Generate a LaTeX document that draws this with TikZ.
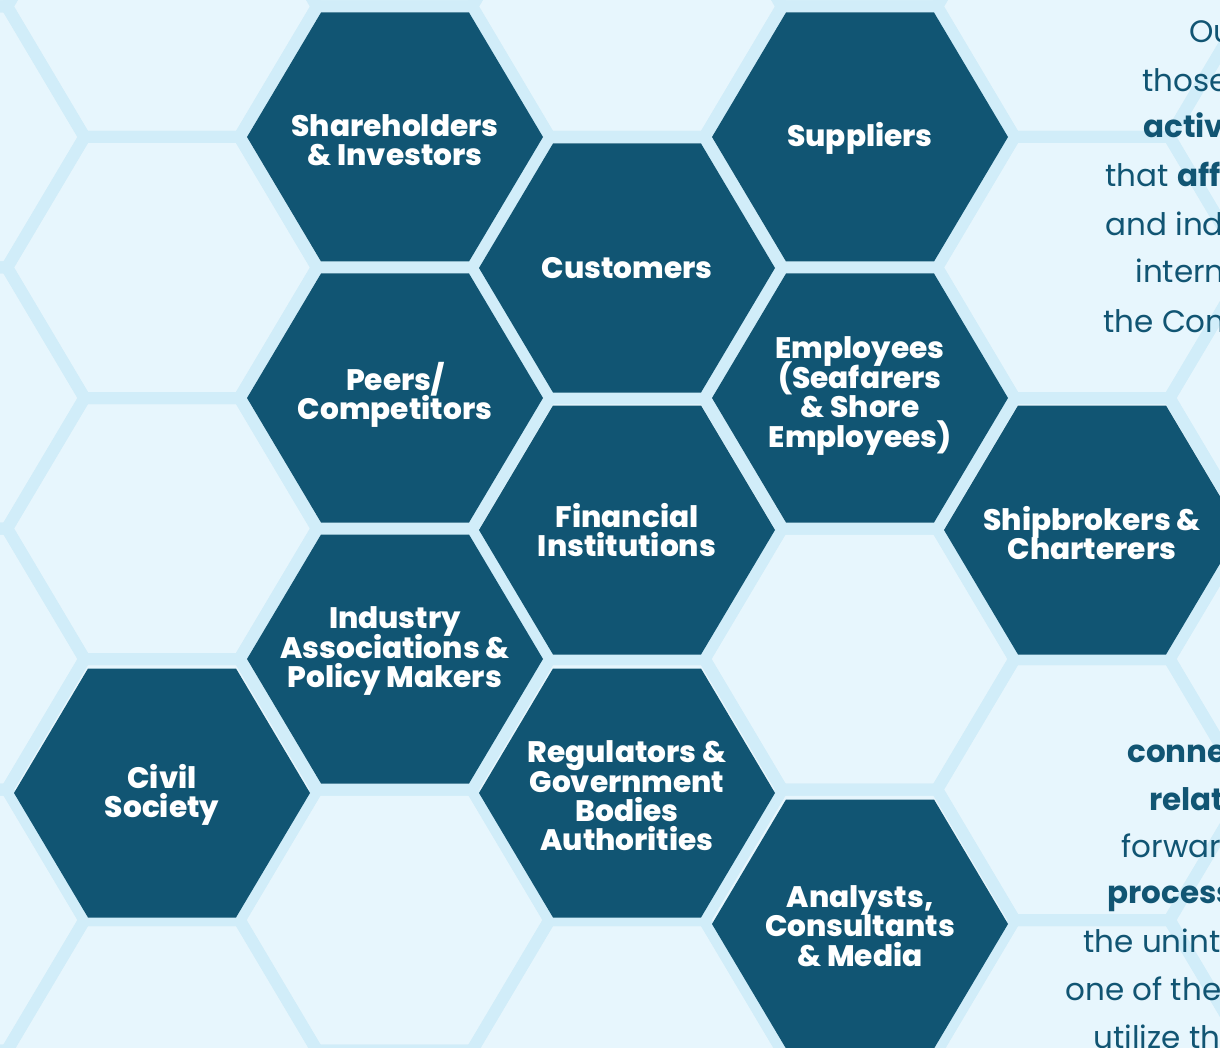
\documentclass[tikz,border=0pt]{standalone}
\usepackage{fontspec}
\setmainfont{Poppins}
\newfontfamily\hexfont{Poppins ExtraBold}
\definecolor{hexblue}{RGB}{17,85,115}
\definecolor{bgblue}{RGB}{231,246,253}
\definecolor{gridblue}{RGB}{209,237,249}
\tikzset{
  pics/gridcell/.style={code={
    \draw[gridblue, line width=6pt, line join=miter] (-155,0) -- (-77.5,-130.5) -- (77.5,-130.5) -- (155,0) -- (77.5,130.5) -- (-77.5,130.5) -- cycle;}},
  pics/darkcell/.style={code={
    \fill[hexblue] (-148,0) -- (-74,-124.5) -- (74,-124.5) -- (148,0) -- (74,124.5) -- (-74,124.5) -- cycle;}},
  stakename/.style={text=white, font={\hexfont\fontsize{14.8}{14.7}\selectfont\lineskiplimit=-20pt}, align=center, inner sep=0pt},
  sidetext/.style={text=hexblue, font=\fontsize{15.5}{24}\selectfont, anchor=base west, inner sep=0pt}
}
\begin{document}
\begin{tikzpicture}[x=0.5pt, y=-0.5pt]
  \useasboundingbox (0,0) rectangle (1220,1048);
  \clip (0,0) rectangle (1220,1048);
  \fill[bgblue] (0,0) rectangle (1220,1048);
  % background honeycomb
  \foreach \c [evaluate=\c as \cx using -70.5+232.5*\c,
               evaluate=\c as \cy using {137+130.5*mod(\c,2)}] in {0,...,6}
    \foreach \m in {-1,...,4}
      \pic at (\cx, {\cy+261*\m}) {gridcell};
  % text on the right
  \node[sidetext] (t1) at (1189,43) {Our};
  \node[sidetext] (t2) at (1142,92) {those who};
  \node[sidetext] (t3) at (1143,138) {\bfseries activities};
  \node[sidetext] (t4) at (1105,187) {that \textbf{affect}};
  \node[sidetext] (t5) at (1105,235) {and indirectly};
  \node[sidetext] (t6) at (1135,283) {internal};
  \node[sidetext] (t7) at (1103,332) {the Company};
  \node[sidetext] (b1) at (1127,762) {\bfseries connected};
  \node[sidetext] (b2) at (1149,810) {\bfseries relationship};
  \node[sidetext] (b3) at (1121,857) {forward};
  \node[sidetext] (b4) at (1107,903) {\bfseries processes};
  \node[sidetext] (b5) at (1083,952) {the unintended};
  \node[sidetext] (b6) at (1065,1000) {one of the};
  \node[sidetext] (b7) at (1093,1048) {utilize the};
  % stakeholder cells
  \pic at (395,137) {darkcell};
  \node[stakename] (share) at (395,140) {Shareholders\\\& Investors};
  \pic at (860,137) {darkcell};
  \node[stakename] (supp) at (860,138) {Suppliers};
  \pic at (627,268) {darkcell};
  \node[stakename] (cust) at (627,268) {Customers};
  \pic at (395,398) {darkcell};
  \node[stakename] (peers) at (395,395) {Peers/\\Competitors};
  \pic at (860,398) {darkcell};
  \node[stakename] (empl) at (860,396) {Employees\\(Seafarers\\\& Shore\\Employees)};
  \pic at (627,530) {darkcell};
  \node[stakename] (fin) at (627,530) {Financial\\Institutions};
  \pic at (1092,530) {darkcell};
  \node[stakename] (ship) at (1092,533) {Shipbrokers \&\\Charterers};
  \pic at (395,659) {darkcell};
  \node[stakename] (ind) at (395,651) {Industry\\Associations \&\\Policy Makers};
  \pic at (162,793) {darkcell};
  \node[stakename] (civil) at (162,795) {Civil\\Society};
  \pic at (627,793) {darkcell};
  \node[stakename] (reg) at (627,796) {Regulators \&\\Government\\Bodies\\Authorities};
  \pic at (860,924) {darkcell};
  \node[stakename] (anal) at (860,926) {Analysts,\\Consultants\\\& Media};
\end{tikzpicture}
\end{document}
